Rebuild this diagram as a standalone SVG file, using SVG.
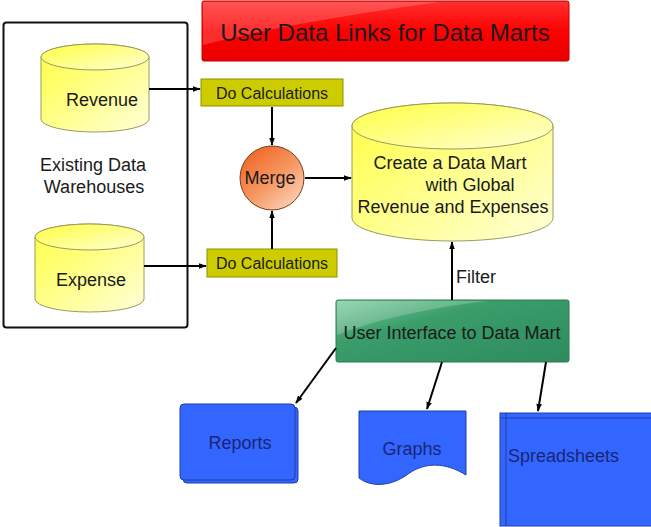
<svg xmlns="http://www.w3.org/2000/svg" width="651" height="527" viewBox="0 0 651 527">
<defs>
<linearGradient id="gYel" x1="0" y1="0" x2="1" y2="1">
<stop offset="0" stop-color="#ffff40"/>
<stop offset="1" stop-color="#ffffd8"/>
</linearGradient>
<linearGradient id="gRed" x1="0" y1="0" x2="0" y2="1">
<stop offset="0" stop-color="#ff3030"/>
<stop offset="0.5" stop-color="#ff0000"/>
<stop offset="1" stop-color="#e80000"/>
</linearGradient>
<linearGradient id="gGreen" x1="0" y1="0" x2="1" y2="1">
<stop offset="0" stop-color="#7fcfa0"/>
<stop offset="0.35" stop-color="#3a9d6a"/>
<stop offset="1" stop-color="#2e8b5e"/>
</linearGradient>
<linearGradient id="gOrange" x1="0.15" y1="0.1" x2="0.85" y2="0.95">
<stop offset="0" stop-color="#f06a28"/>
<stop offset="0.5" stop-color="#f69660"/>
<stop offset="1" stop-color="#fcd2b8"/>
</linearGradient>
<marker id="arr" viewBox="0 0 10 10" refX="9" refY="5" markerWidth="8" markerHeight="8" orient="auto" markerUnits="userSpaceOnUse">
<path d="M0,1.5 L10,5 L0,8.5 z" fill="#000"/>
</marker>
<style>
text{font-family:"Liberation Sans",Arial,sans-serif;fill:#1a1a1a;}
.t18{font-size:18px;}
.t16{font-size:16px;}
.cyl{fill:url(#gYel);stroke:#9a9a60;stroke-width:1;}
.calc{fill:#cccc00;stroke:#8f8f00;stroke-width:1;}
.blue{fill:#3366ff;stroke:#1f3fa8;stroke-width:1;}
.btxt{fill:#1a2575;}
.conn line{stroke:#000;stroke-width:2;marker-end:url(#arr);}
</style>
</defs>
<rect width="651" height="527" fill="#fff"/>

<g id="warehouses">
<rect x="3.5" y="22.5" width="184" height="305" rx="3" fill="none" stroke="#111" stroke-width="2"/>
<text class="t18" x="93" y="171" text-anchor="middle">Existing Data</text>
<text class="t18" x="94" y="193" text-anchor="middle">Warehouses</text>
</g>

<g id="revenue">
<path class="cyl" d="M41,57 A54,13 0 0 1 149,57 V119 A54,13 0 0 1 41,119 Z"/>
<ellipse class="cyl" cx="95" cy="57" rx="54" ry="13"/>
<text class="t18" x="102" y="106" text-anchor="middle">Revenue</text>
</g>

<g id="expense">
<path class="cyl" d="M35,237 A54.5,13 0 0 1 144,237 V299 A54.5,13 0 0 1 35,299 Z"/>
<ellipse class="cyl" cx="89.5" cy="237" rx="54.5" ry="13"/>
<text class="t18" x="91" y="286" text-anchor="middle">Expense</text>
</g>

<g id="title">
<rect x="202" y="1" width="367" height="60" rx="2" fill="url(#gRed)" stroke="#c00000" stroke-width="1"/>
<path d="M203,2 H440 C380,10 280,25 203,45 Z" fill="#ffffff" opacity="0.18"/>
<text x="385" y="41" font-size="24px" text-anchor="middle">User Data Links for Data Marts</text>
</g>

<g id="calc1">
<rect class="calc" x="201" y="79" width="142" height="27"/>
<text class="t16" x="272" y="99" text-anchor="middle">Do Calculations</text>
</g>

<g id="calc2">
<rect class="calc" x="207" y="249" width="130" height="28"/>
<text class="t16" x="272" y="269" text-anchor="middle">Do Calculations</text>
</g>

<g id="merge">
<circle cx="272" cy="178" r="32" fill="url(#gOrange)" stroke="#7a3a1a" stroke-width="1"/>
<text class="t18" x="270" y="184" text-anchor="middle">Merge</text>
</g>

<g id="datamart">
<path class="cyl" d="M352,126 A100.5,23 0 0 1 553,126 V218 A100.5,23 0 0 1 352,218 Z"/>
<ellipse class="cyl" cx="452.5" cy="126" rx="100.5" ry="23"/>
<text class="t18" x="450" y="169" text-anchor="middle">Create a Data Mart</text>
<text class="t18" x="470" y="191" text-anchor="middle">with Global</text>
<text class="t18" x="453" y="213" text-anchor="middle">Revenue and Expenses</text>
</g>

<g id="ui">
<rect x="336" y="300" width="233" height="62" rx="2" fill="url(#gGreen)" stroke="#2a7a52" stroke-width="1"/>
<path d="M337,301 H488 C440,306 380,318 337,335 Z" fill="#ffffff" opacity="0.2"/>
<text class="t18" x="452" y="339" text-anchor="middle">User Interface to Data Mart</text>
</g>

<g id="reports">
<rect class="blue" x="183" y="407" width="115" height="76" rx="4"/>
<rect class="blue" x="180" y="404" width="115" height="76" rx="4"/>
<text class="t18 btxt" x="240" y="449" text-anchor="middle">Reports</text>
</g>

<g id="graphs">
<path class="blue" d="M359,411 H466 V475 C445,462 425,462 408,474 C392,486 372,488 359,478 Z"/>
<text class="t18 btxt" x="412" y="455" text-anchor="middle">Graphs</text>
</g>

<g id="spreadsheets">
<rect class="blue" x="500" y="413" width="152" height="113"/>
<line x1="506" y1="413" x2="506" y2="526" stroke="#1f3fa8" stroke-width="1"/>
<line x1="500" y1="418" x2="651" y2="418" stroke="#1f3fa8" stroke-width="1"/>
<text class="t18 btxt" x="508" y="462">Spreadsheets</text>
</g>

<g id="connectors" class="conn">
<line x1="149" y1="89" x2="200" y2="89"/>
<line x1="144" y1="266" x2="206" y2="266"/>
<line x1="272" y1="107" x2="272" y2="145"/>
<line x1="272" y1="249" x2="272" y2="211"/>
<line x1="305" y1="178" x2="351" y2="178"/>
<line x1="452" y1="300" x2="452" y2="242"/>
<line x1="336" y1="348" x2="296" y2="403"/>
<line x1="442" y1="362" x2="427" y2="409"/>
<line x1="546" y1="362" x2="538" y2="411"/>
<text class="t18" x="456" y="283">Filter</text>
</g>
</svg>
